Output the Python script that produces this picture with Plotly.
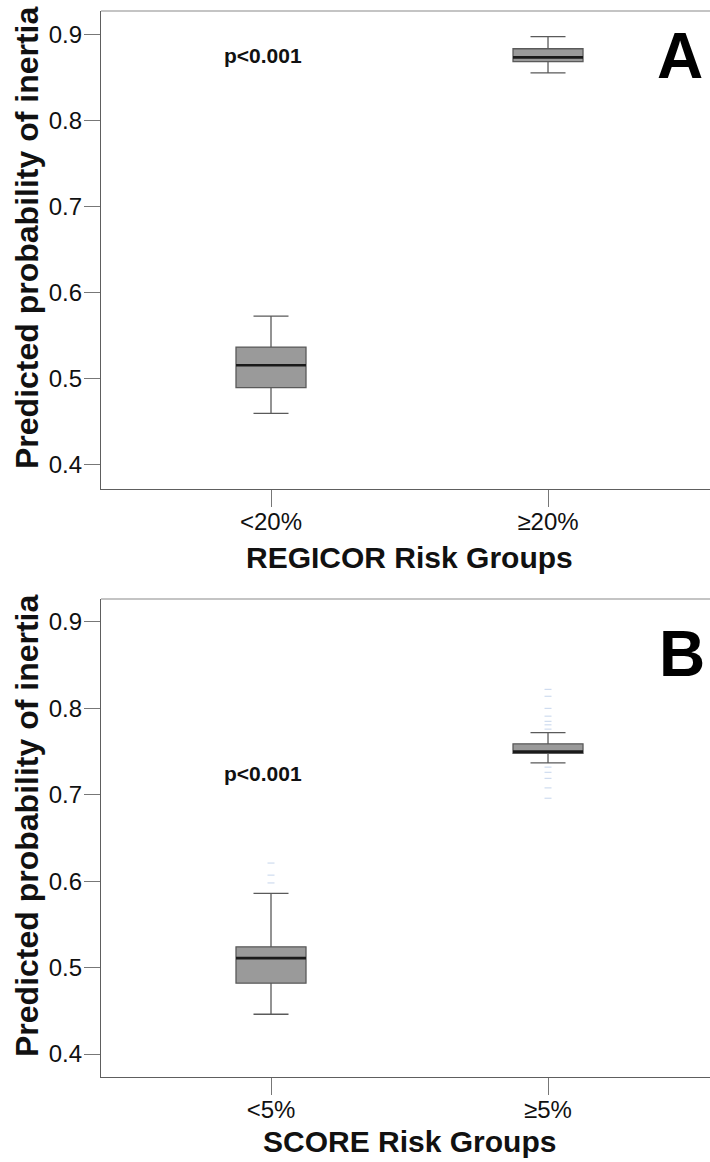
import plotly.graph_objects as go

# ---------------- data ----------------
groups_a = ["<20%", "≥20%"]
groups_b = ["<5%", "≥5%"]

# Panel A (REGICOR)
a_lower = [0.460, 0.856]
a_q1 = [0.490, 0.869]
a_median = [0.516, 0.874]
a_q3 = [0.537, 0.884]
a_upper = [0.573, 0.898]
a_outliers = [[], []]

# Panel B (SCORE)
b_lower = [0.446, 0.737]
b_q1 = [0.482, 0.748]
b_median = [0.511, 0.750]
b_q3 = [0.524, 0.759]
b_upper = [0.586, 0.772]
b_outliers = [
    [0.598, 0.607, 0.621],
    [0.822, 0.814, 0.800, 0.791, 0.785, 0.781, 0.776,
     0.732, 0.726, 0.719, 0.708, 0.696],
]

y_ticks = [0.4, 0.5, 0.6, 0.7, 0.8, 0.9]
y_ticktext = ["0.4", "0.5", "0.6", "0.7", "0.8", "0.9"]
ylabel = "Predicted probability of inertia"
xlabel_a = "REGICOR Risk Groups"
xlabel_b = "SCORE Risk Groups"
p_text = "p<0.001"

# ---------------- style ----------------
FONT = "Liberation Sans, Arial, sans-serif"
W, H = 710, 1162
BOX_W = 0.2527
FILL = "#9a9a9a"
EDGE = "#5a5a5a"
AXIS = "#5e5e5e"

fig = go.Figure()

def add_panel(xa, ya, lower, q1, med, q3, upper, outl):
    for i in range(len(med)):
        fig.add_trace(go.Box(
            x=[i], q1=[q1[i]], median=[med[i]], q3=[q3[i]],
            lowerfence=[lower[i]], upperfence=[upper[i]],
            width=BOX_W, whiskerwidth=0.5, boxpoints=False,
            fillcolor=FILL, line=dict(color=EDGE, width=1.3),
            xaxis=xa, yaxis=ya, showlegend=False, hoverinfo="skip"))
        fig.add_trace(go.Scatter(
            x=[i - BOX_W / 2, i + BOX_W / 2], y=[med[i], med[i]],
            mode="lines", line=dict(color="#1a1a1a", width=2.6),
            xaxis=xa, yaxis=ya, showlegend=False, hoverinfo="skip"))
        if outl[i]:
            fig.add_trace(go.Scatter(
                x=[i] * len(outl[i]), y=outl[i], mode="markers",
                marker=dict(symbol="line-ew", size=5,
                            line=dict(color="#cfdcef", width=1.2)),
                xaxis=xa, yaxis=ya, showlegend=False, hoverinfo="skip"))

add_panel("x", "y", a_lower, a_q1, a_median, a_q3, a_upper, a_outliers)
add_panel("x2", "y2", b_lower, b_q1, b_median, b_q3, b_upper, b_outliers)

xdom = [101 / W, 1.0]
ydom_a = [1 - 489 / H, 1 - 11 / H]
ydom_b = [1 - 1077 / H, 1 - 599 / H]

xcommon = dict(range=[-0.6137, 1.5848], tickvals=[0, 1], showgrid=False,
               zeroline=False, showline=True, linecolor=AXIS, linewidth=1.3,
               ticks="outside", ticklen=17, tickcolor="#777", tickwidth=1,
               ticklabelstandoff=-6,
               tickfont=dict(family=FONT, size=24, color="#111"))
ycommon = dict(tickvals=y_ticks, ticktext=y_ticktext, showgrid=False,
               zeroline=False, showline=True, linecolor=AXIS, linewidth=1.3,
               ticks="outside", ticklen=16, tickcolor="#777", tickwidth=1,
               ticklabelstandoff=-3,
               tickfont=dict(family=FONT, size=24, color="#111"))

fig.update_layout(
    width=W, height=H, margin=dict(l=0, r=0, t=0, b=0),
    paper_bgcolor="white", plot_bgcolor="white", showlegend=False,
    xaxis=dict(domain=xdom, anchor="y", ticktext=groups_a, **xcommon),
    yaxis=dict(domain=ydom_a, anchor="x", range=[0.372, 0.9279], **ycommon),
    xaxis2=dict(domain=xdom, anchor="y2", ticktext=groups_b, **xcommon),
    yaxis2=dict(domain=ydom_b, anchor="x2", range=[0.3734, 0.9266], **ycommon),
)

# top borders
for ax, ay in [("x", "y"), ("x2", "y2")]:
    fig.add_shape(type="line", xref=f"{ax} domain", yref=f"{ay} domain",
                  x0=0, x1=1, y0=1, y1=1, line=dict(color="#b0b0b0", width=1.5))

ann = []
# axis titles
for yc in [1 - 238 / H, 1 - 826 / H]:
    ann.append(dict(text=ylabel, xref="paper", yref="paper", x=27 / W, y=yc,
                    textangle=-90, showarrow=False, xanchor="center", yanchor="middle",
                    font=dict(family=FONT, size=32, color="#111", weight="bold")))
for txt, yc in [(xlabel_a, 1 - 557 / H), (xlabel_b, 1 - 1141 / H)]:
    ann.append(dict(text=txt, xref="paper", yref="paper", x=409 / W, y=yc,
                    showarrow=False, xanchor="center", yanchor="middle",
                    font=dict(family=FONT, size=30, color="#111", weight="bold")))
# p-values
ann.append(dict(text=p_text, xref="x", yref="y", x=-0.03, y=0.876, showarrow=False,
                font=dict(family=FONT, size=21, color="#111", weight="bold")))
ann.append(dict(text=p_text, xref="x2", yref="y2", x=-0.03, y=0.725, showarrow=False,
                font=dict(family=FONT, size=21, color="#111", weight="bold")))
# panel letters
ann.append(dict(text="A", xref="paper", yref="paper", x=680 / W, y=1 - 56 / H,
                showarrow=False, xanchor="center", yanchor="middle",
                font=dict(family=FONT, size=64, color="black", weight="bold")))
ann.append(dict(text="B", xref="paper", yref="paper", x=707 / W, y=1 - 654 / H,
                showarrow=False, xanchor="right", yanchor="middle",
                font=dict(family=FONT, size=64, color="black", weight="bold")))
fig.update_layout(annotations=ann)

fig.write_html("out.html", config={"displayModeBar": False},
               post_script="document.body.style.margin='0';document.body.style.overflow='hidden';")
